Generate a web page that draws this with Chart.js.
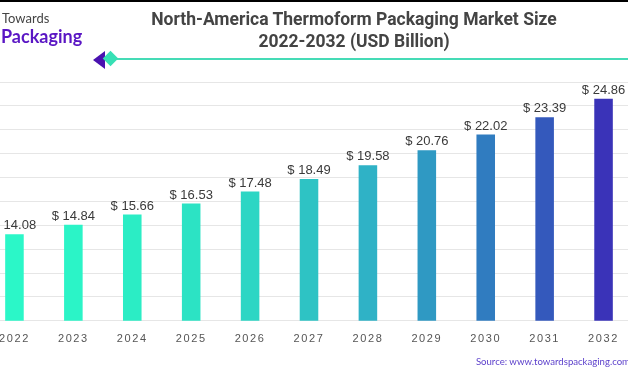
<!DOCTYPE html>
<html>
<head>
<meta charset="utf-8">
<script src="https://cdn.jsdelivr.net/npm/chart.js@4.4.0/dist/chart.umd.min.js"></script>
<style>
  html, body { margin: 0; padding: 0; }
  body { width: 628px; height: 369px; position: relative; overflow: hidden; background: #fff; }
  .topline { position: absolute; left: 0; top: 0; width: 628px; height: 2px; background: #000; }
  #wrap { position: absolute; left: -15px; top: 0; width: 648px; height: 369px; }
  .logo1 { position: absolute; left: 2px; top: 10px; font: 13px Lato, "Open Sans", sans-serif; color: #444; }
  .logo2 { position: absolute; left: 1px; top: 25px; font: bold 18px Lato, "Open Sans", sans-serif; color: #5a16c4; }
  .title { position: absolute; left: 100px; width: 508px; top: 8px; text-align: center; font: bold 17.5px Roboto, sans-serif; color: #444; line-height: 22px; }
  .line { position: absolute; left: 115px; right: 0; top: 58px; height: 2px; background: #45dbb6; }
  .chev { position: absolute; left: 93px; top: 51px; width: 0; height: 0;
          border-top: 9px solid transparent; border-bottom: 9px solid transparent; border-right: 12px solid #4a12b0; }
  .diam { position: absolute; left: 105px; top: 53px; width: 11px; height: 11px; background: #37e0b5; transform: rotate(45deg); }
  .source { position: absolute; right: -2px; top: 356px; font: 9.6px Lato, "Open Sans", sans-serif; color: #5b3fcb; }
</style>
</head>
<body>
<div id="wrap"><canvas id="chart"></canvas></div>
<div class="topline"></div>
<div class="logo1">Towards</div>
<div class="logo2">Packaging</div>
<div class="title">North-America Thermoform Packaging Market Size<br>2022-2032 (USD Billion)</div>
<div class="line"></div>
<div class="chev"></div>
<div class="diam"></div>
<div class="source">Source: www.towardspackaging.com</div>
<script>
// chart data
const years = ['2022', '2023', '2024', '2025', '2026', '2027', '2028', '2029', '2030', '2031', '2032'];
const marketSize = [14.08, 14.84, 15.66, 16.53, 17.48, 18.49, 19.58, 20.76, 22.02, 23.39, 24.86];

// bar colours, mint to indigo
const barColors = ['#2bf7c8', '#2bf4c7', '#2bedc5', '#2ce3c4', '#2dd6c4', '#2ec3c4', '#2fb2c6', '#2f99c3', '#307cc0', '#3459bc', '#3a33b8'];

// value labels above each bar
const valueLabels = {
  id: 'valueLabels',
  afterDatasetsDraw(chart) {
    const ctx = chart.ctx;
    const meta = chart.getDatasetMeta(0);
    ctx.save();
    ctx.font = '13px "Liberation Sans", Arial, sans-serif';
    ctx.fillStyle = '#3a3a3a';
    ctx.textAlign = 'center';
    ctx.textBaseline = 'bottom';
    meta.data.forEach((bar, i) => {
      ctx.fillText('$ ' + marketSize[i].toFixed(2), bar.x, bar.y - 2);
    });
    ctx.restore();
  }
};

// spaced-out year labels
const spacing = {
  id: 'spacing',
  beforeDraw(chart) { chart.ctx.letterSpacing = '1.6px'; },
  beforeDatasetsDraw(chart) { chart.ctx.letterSpacing = '0px'; }
};

new Chart(document.getElementById('chart'), {
  type: 'bar',
  data: {
    labels: years,
    datasets: [{
      data: marketSize,
      backgroundColor: barColors,
      borderWidth: 0,
      barPercentage: 0.315,
      categoryPercentage: 1
    }]
  },
  options: {
    responsive: true,
    maintainAspectRatio: false,
    animation: false,
    layout: { padding: { top: 82, bottom: 19, left: 0, right: 0 } },
    plugins: { legend: { display: false }, tooltip: { enabled: false } },
    scales: {
      x: {
        grid: { display: false },
        border: { display: false },
        ticks: {
          color: '#555',
          padding: 4,
          font: { size: 11, family: '"Liberation Sans", Arial, sans-serif' },
          maxRotation: 0
        }
      },
      y: {
        min: 7.2,
        max: 26.2,
        afterFit(s) { s.width = 0; },
        afterBuildTicks(s) {
          const t = [];
          for (let i = 0; i <= 10; i++) t.push({ value: s.min + (s.max - s.min) * i / 10 });
          s.ticks = t;
        },
        border: { display: false },
        grid: { color: '#e6e6e6', drawTicks: false },
        ticks: { display: false }
      }
    }
  },
  plugins: [valueLabels, spacing]
});
</script>
</body>
</html>
